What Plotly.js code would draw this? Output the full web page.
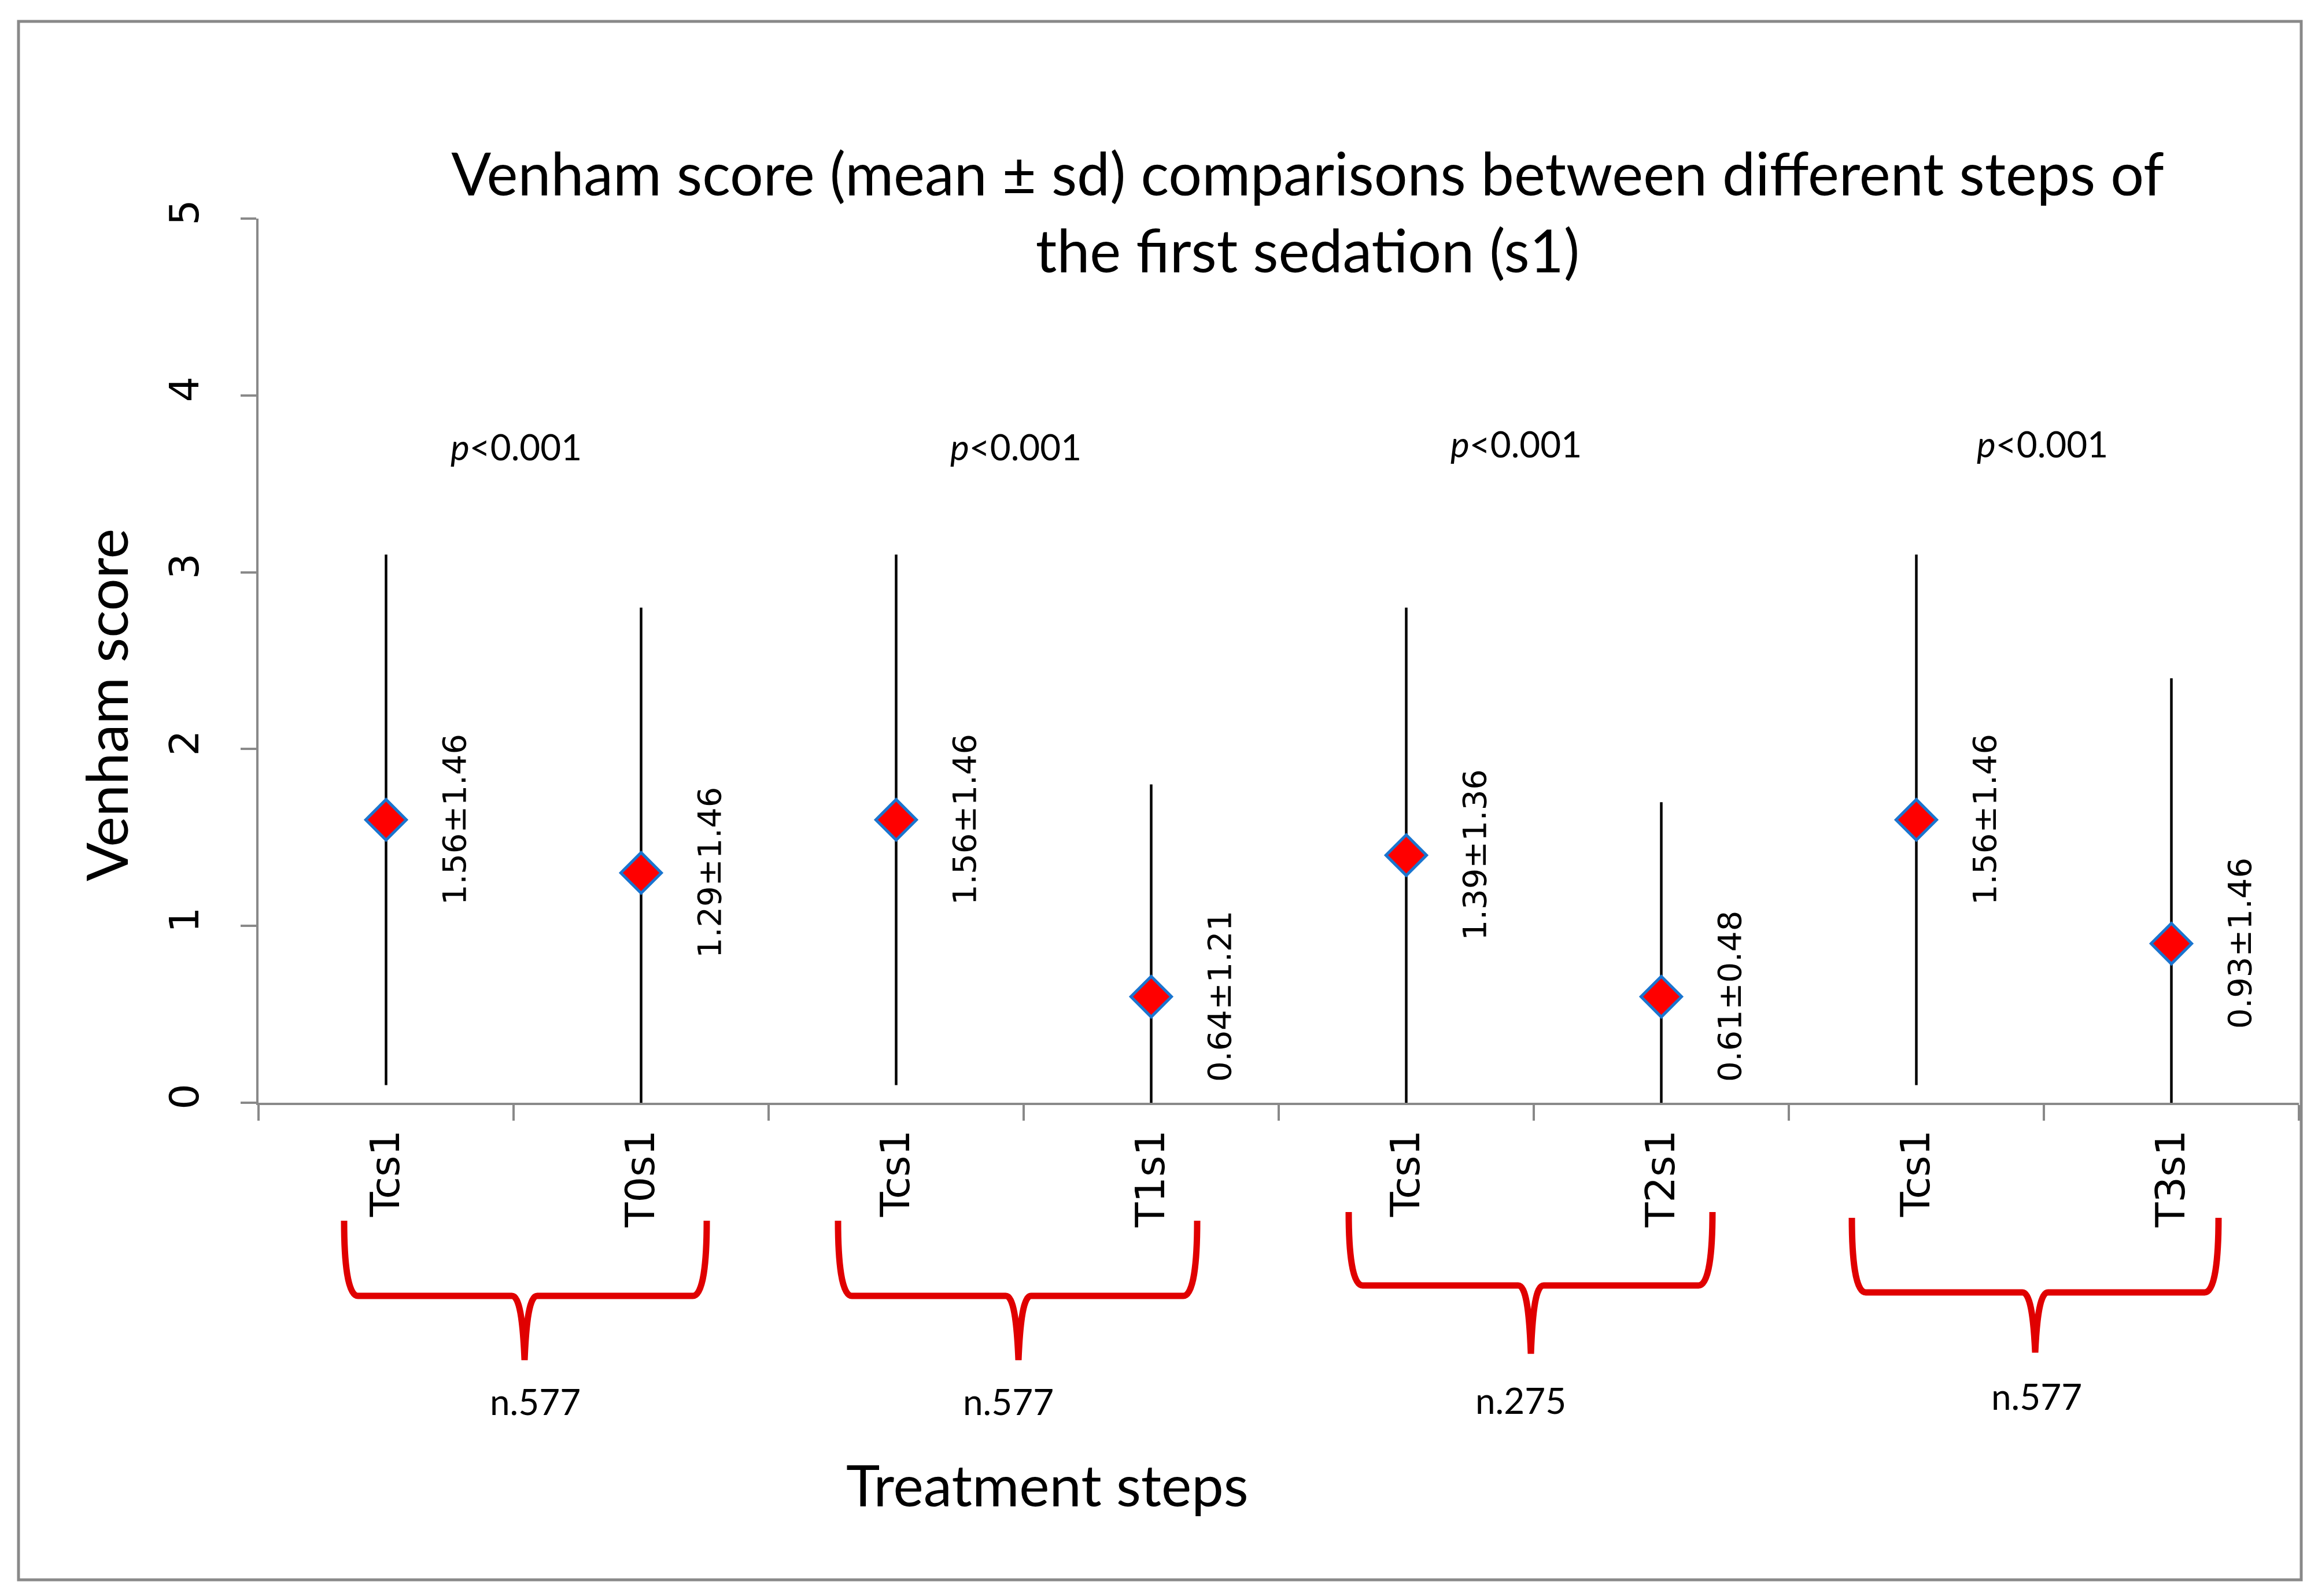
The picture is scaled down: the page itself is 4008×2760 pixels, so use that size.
<!DOCTYPE html>
<html>
<head>
<meta charset="utf-8">
<script src="https://cdn.plot.ly/plotly-3.0.1.min.js"></script>
<style>
  html, body { margin: 0; padding: 0; background: #ffffff; }
  #chart { width: 4008px; height: 2760px; }
</style>
</head>
<body>
<div id="chart"></div>
<script>
// ---------------- data ----------------
const steps = ['Tcs1', 'T0s1', 'Tcs1', 'T1s1', 'Tcs1', 'T2s1', 'Tcs1', 'T3s1'];
const means = [1.6, 1.3, 1.6, 0.6, 1.4, 0.6, 1.6, 0.9];
const barUp = [1.5, 1.5, 1.5, 1.2, 1.4, 1.1, 1.5, 1.5];
const barDown = [1.5, 1.3, 1.5, 0.6, 1.4, 0.6, 1.5, 0.9];
const valueLabels = ['1.56±1.46', '1.29±1.46', '1.56±1.46', '0.64±1.21',
                     '1.39±1.36', '0.61±0.48', '1.56±1.46', '0.93±1.46'];
const pValues = ['<0.001', '<0.001', '<0.001', '<0.001'];
const groupSizes = ['n.577', 'n.577', 'n.275', 'n.577'];
const pLabelLevel = 3.71;
const yTicks = [0, 1, 2, 3, 4, 5];

// ---------------- geometry helpers (layout only) ----------------
const W = 4008, H = 2760;
const PL = 447, PR = 3975, PT = 378, PB = 1907;
const plotW = PR - PL, plotH = PB - PT;
const nCat = steps.length;
const pxPerCat = plotW / nCat;
const xIdx = steps.map((_, i) => i);
const px2paperX = (px) => (px - PL) / plotW;
const px2paperY = (px) => (PB - px) / plotH;
const dxUnits = (px) => px / pxPerCat;        // horizontal px -> category units
const dyPaper = (px) => -px / plotH;          // px below axis -> paper y

const gray = '#898989';
const SANS = 'DejaVu Sans, Verdana, sans-serif';
const CAL = 'Lato, Carlito, Calibri, sans-serif';

// hand-placed brace / label geometry (px, relative to the pair centre / x axis line)
const braceStyle = [
  { l: -293, r: 334, tip: 19, top: 204, hor: 334, end: 445, nx: 37, ny: 516, px: 4, py: 0 },
  { l: -321, r: 300, tip: -9, top: 204, hor: 334, end: 445, nx: -27, ny: 516, px: -14, py: 0 },
  { l: -320, r: 309, tip: -5, top: 189, hor: 316, end: 434, nx: -23, ny: 514, px: -31, py: 5 },
  { l: -332, r: 302, tip: -15, top: 199, hor: 328, end: 432, nx: -13, ny: 507, px: -3, py: 5 }
];

// ---------------- traces ----------------
const main = {
  type: 'scatter',
  mode: 'markers',
  x: xIdx,
  y: means,
  xaxis: 'x', yaxis: 'y',
  cliponaxis: false,
  marker: { symbol: 'diamond', size: 54, color: '#ff0000',
            line: { color: '#1a75cf', width: 5 } },
  error_y: { type: 'data', symmetric: false, array: barUp, arrayminus: barDown,
             color: '#000000', thickness: 4.5, width: 0 },
  hoverinfo: 'skip', showlegend: false
};
const labelAxisTrace = {
  type: 'scatter', mode: 'markers', x: xIdx, y: means,
  xaxis: 'x2', yaxis: 'y', marker: { opacity: 0 },
  hoverinfo: 'skip', showlegend: false
};

// ---------------- annotations ----------------
const annotations = [];
xIdx.forEach((i) => {
  annotations.push({
    x: i, y: means[i], xref: 'x', yref: 'y', text: valueLabels[i],
    textangle: -90, xshift: 118, showarrow: false,
    xanchor: 'center', yanchor: 'middle',
    font: { family: SANS, size: 56, color: '#000000' }
  });
});
pValues.forEach((p, g) => {
  const s = braceStyle[g];
  annotations.push({
    x: 2 * g + 0.5, y: pLabelLevel, xref: 'x', yref: 'y',
    xshift: s.px, yshift: s.py,
    text: '<i>p</i>' + p.replace('<', '&lt;'), showarrow: false,
    xanchor: 'center', yanchor: 'middle',
    font: { family: CAL, size: 62, color: '#000000' }
  });
});
groupSizes.forEach((n, g) => {
  const s = braceStyle[g];
  annotations.push({
    x: 2 * g + 0.5 + dxUnits(s.nx), y: dyPaper(s.ny), xref: 'x', yref: 'paper', text: n,
    showarrow: false, xanchor: 'center', yanchor: 'middle',
    font: { family: CAL, size: 62, color: '#000000' }
  });
});
annotations.push({
  x: px2paperX(1811), y: px2paperY(2566), xref: 'paper', yref: 'paper',
  text: 'Treatment steps', showarrow: false, xanchor: 'center', yanchor: 'middle',
  font: { family: CAL, size: 99, color: '#000000' }
});
annotations.push({
  x: px2paperX(182), y: px2paperY(1219), xref: 'paper', yref: 'paper',
  text: 'Venham score', textangle: -90, showarrow: false,
  xanchor: 'center', yanchor: 'middle',
  font: { family: CAL, size: 99, color: '#000000' }
});

// ---------------- shapes: braces + outer frame ----------------
function bracePath(c, s) {
  const X = (px) => (c + dxUnits(px)).toFixed(4);
  const Y = (px) => dyPaper(px).toFixed(5);
  const mid = s.top + 0.55 * (s.hor - s.top);
  const L = s.l, R = s.r, T = s.tip, hor = s.hor;
  return 'M ' + X(L) + ',' + Y(s.top) +
    ' C ' + X(L) + ',' + Y(mid) + ' ' + X(L + 6) + ',' + Y(hor) + ' ' + X(L + 24) + ',' + Y(hor) +
    ' L ' + X(T - 22) + ',' + Y(hor) +
    ' C ' + X(T - 9) + ',' + Y(hor) + ' ' + X(T - 3) + ',' + Y(hor + 40) + ' ' + X(T) + ',' + Y(s.end) +
    ' C ' + X(T + 3) + ',' + Y(hor + 40) + ' ' + X(T + 9) + ',' + Y(hor) + ' ' + X(T + 22) + ',' + Y(hor) +
    ' L ' + X(R - 24) + ',' + Y(hor) +
    ' C ' + X(R - 6) + ',' + Y(hor) + ' ' + X(R) + ',' + Y(mid) + ' ' + X(R) + ',' + Y(s.top);
}
const shapes = groupSizes.map((_, g) => ({
  type: 'path', xref: 'x', yref: 'paper', path: bracePath(2 * g + 0.5, braceStyle[g]),
  line: { color: '#e00000', width: 11 }
}));
shapes.push({
  type: 'rect', xref: 'paper', yref: 'paper', layer: 'below',
  x0: px2paperX(32), x1: px2paperX(3979), y0: px2paperY(2732), y1: px2paperY(37),
  line: { color: gray, width: 5 }, fillcolor: 'rgba(0,0,0,0)'
});

// ---------------- layout ----------------
const layout = {
  width: W, height: H, autosize: false,
  paper_bgcolor: '#ffffff', plot_bgcolor: '#ffffff',
  margin: { l: PL, r: W - PR, t: PT, b: H - PB, pad: 0 },
  showlegend: false,
  title: {
    text: 'Venham score (mean ± sd) comparisons between different steps of<br>the first sedation (s1)',
    x: 2261 / W, xref: 'container', xanchor: 'center',
    y: 1 - 338 / H, yref: 'container', yanchor: 'middle',
    font: { family: CAL, size: 102, color: '#000000' }
  },
  xaxis: {
    range: [-0.5, nCat - 0.5], tickmode: 'linear', tick0: -0.5, dtick: 1,
    showticklabels: false, ticks: 'outside', ticklen: 27, tickwidth: 4, tickcolor: gray,
    showline: true, linewidth: 4, linecolor: gray, showgrid: false, zeroline: false,
    fixedrange: true
  },
  xaxis2: {
    overlaying: 'x', anchor: 'y', side: 'bottom', range: [-0.5, nCat - 0.5],
    tickmode: 'array', tickvals: xIdx, ticktext: steps, ticks: '',
    tickangle: -90, ticklabelstandoff: 32,
    tickfont: { family: SANS, size: 70, color: '#000000' },
    showline: false, showgrid: false, zeroline: false, fixedrange: true
  },
  yaxis: {
    range: [0, 5], tickmode: 'array', tickvals: yTicks, ticktext: yTicks.map(String),
    tickangle: -90, ticks: 'outside', ticklen: 27, tickwidth: 4, tickcolor: gray,
    ticklabelstandoff: 45,
    tickfont: { family: SANS, size: 70, color: '#000000' },
    showline: true, linewidth: 4, linecolor: gray, showgrid: false, zeroline: false,
    fixedrange: true
  },
  annotations: annotations,
  shapes: shapes
};

Plotly.newPlot('chart', [main, labelAxisTrace], layout, { staticPlot: true, displayModeBar: false });
</script>
</body>
</html>
